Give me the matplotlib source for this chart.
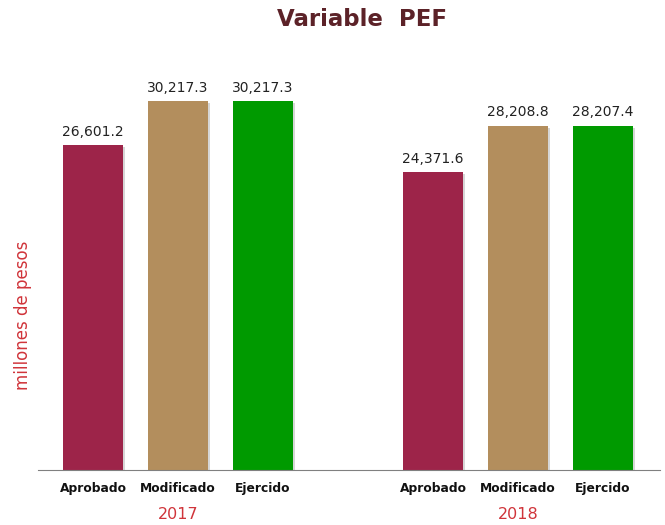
import matplotlib.pyplot as plt
import matplotlib.patheffects as pe
from matplotlib.transforms import blended_transform_factory

plt.rcParams['font.family'] = ['DejaVu Sans']

years = ["2017", "2018"]
categorias = ["Aprobado", "Modificado", "Ejercido"]
aprobado = [26601.2, 24371.6]
modificado = [30217.3, 28208.8]
ejercido = [30217.3, 28207.4]
colores = ["#9D2449", "#B38E5D", "#009A00"]

fig = plt.figure(figsize=(6.65, 5.25), dpi=100)
ax = fig.add_axes([0.0571, 0.1048, 0.9353, 0.781])

series = [aprobado, modificado, ejercido]
xs, labels = [], []
for g in range(len(years)):
    for i, s in enumerate(series):
        x = g * 4 + i
        b = ax.bar(x, s[g], width=0.706, color=colores[i], zorder=2)
        b[0].set_path_effects([pe.SimplePatchShadow(offset=(1.5, -1.5), shadow_rgbFace="#bbbbbb", alpha=0.6), pe.Normal()])
        ax.text(x, s[g] + 500, f"{s[g]:,.1f}", ha="center", va="bottom", fontsize=10, color="#222222")
        xs.append(x)
        labels.append(categorias[i])

ax.set_xlim(-0.647, 6.67)
ax.set_ylim(0, 33577)
ax.set_xticks(xs)
ax.set_xticklabels(labels, fontsize=8.8, fontweight="bold", color="#111111")
ax.tick_params(axis="x", length=0, pad=9)
ax.set_yticks([])
for sp in ["top", "right", "left"]:
    ax.spines[sp].set_visible(False)
ax.spines["bottom"].set_color("#808080")

tr = blended_transform_factory(ax.transData, ax.transAxes)
for g, y in enumerate(years):
    ax.text(g * 4 + 1, -0.108, y, transform=tr, ha="center", va="center", fontsize=11.5, color="#D0343A")

fig.text(0.035, 0.40, "millones de pesos", rotation=90, ha="center", va="center", fontsize=12, color="#D0343A")
fig.text(0.545, 0.962, "Variable  PEF", ha="center", va="center", fontsize=16.5, fontweight="bold", color="#5C2228")

fig.savefig("out.png", dpi=100)
